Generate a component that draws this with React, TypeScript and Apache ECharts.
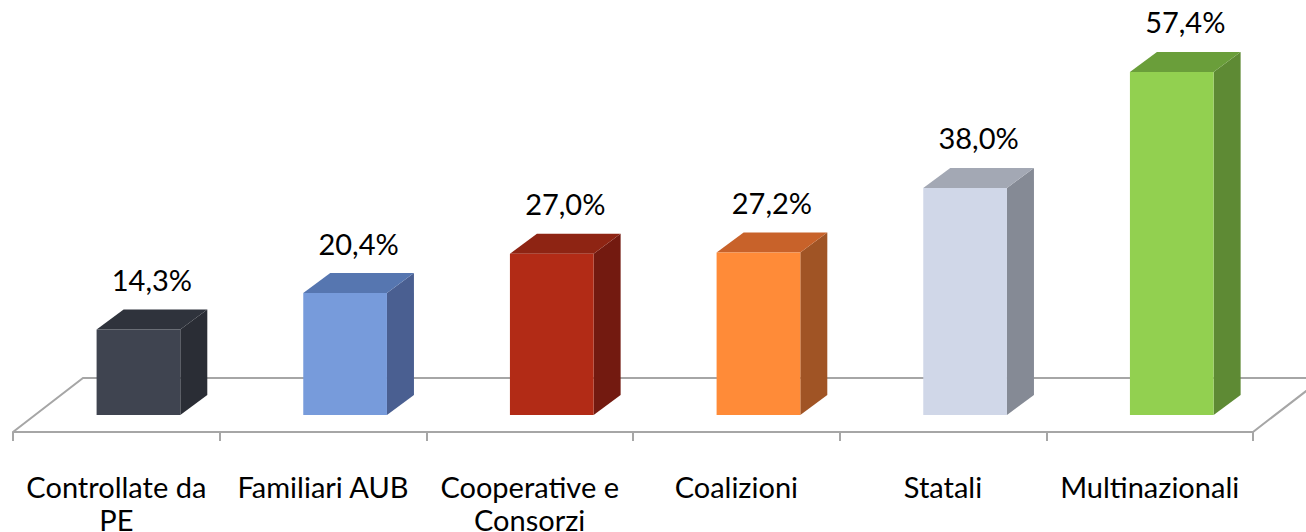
import React, { useEffect, useRef } from "react";
import * as echarts from "echarts";

const categories: string[] = [
  "Controllate da\nPE",
  "Familiari AUB",
  "Cooperative e\nConsorzi",
  "Coalizioni",
  "Statali",
  "Multinazionali",
];
const values: number[] = [14.3, 20.4, 27.0, 27.2, 38.0, 57.4];

const frontColors = ["#3f4450", "#779bdb", "#b22b16", "#ff8b38", "#d0d7e8", "#92d050"];
const topColors = ["#2f333c", "#5676b0", "#8e2413", "#c8622a", "#a3a8b4", "#6a9e3a"];
const sideColors = ["#2a2d35", "#4a5f91", "#731a10", "#a05425", "#858a95", "#5e8a34"];

const FONT = "Lato, 'Noto Sans', sans-serif";
const fmt = (v: number) => v.toFixed(1).replace(".", ",") + "%";

export default function App() {
  const ref = useRef<HTMLDivElement>(null);
  useEffect(() => {
    if (!ref.current) return;
    const chart = echarts.init(ref.current, null, { renderer: "svg" });
    const dx = 27;
    const dy = 20;
    const lift = 17; // bars stand back from the floor's front edge
    chart.setOption({
      animation: false,
      backgroundColor: "#ffffff",
      grid: {
        left: 13,
        right: 53,
        top: 73.4,
        bottom: 100,
        containLabel: false,
        outerBoundsMode: "none",
      },
      xAxis: {
        type: "category",
        data: categories,
        axisLine: { show: true, lineStyle: { color: "#a6a6a6", width: 2 } },
        axisTick: { show: true, length: 9, lineStyle: { color: "#a6a6a6", width: 2 } },
        axisLabel: {
          color: "#000000",
          fontFamily: FONT,
          fontSize: 29,
          lineHeight: 33,
          margin: 38,
          interval: 0,
        },
        splitLine: { show: false },
      },
      yAxis: { type: "value", min: 0, max: 60, show: false },
      series: [
        {
          type: "custom",
          z: 1,
          data: [[0, 0]],
          renderItem: (params: any, api: any) => {
            const cs = params.coordSys;
            const x = cs.x;
            const w = cs.width;
            const yf = cs.y + cs.height;
            return {
              type: "polyline",
              shape: {
                points: [
                  [x, yf],
                  [x + 70, yf - 54],
                  [x + w + 70, yf - 54],
                  [x + w, yf],
                ],
              },
              style: { stroke: "#a6a6a6", lineWidth: 2, fill: "none" },
            };
          },
        },
        {
          type: "custom",
          z: 2,
          data: values.map((v, i) => [i, v]),
          renderItem: (params: any, api: any) => {
            const idx = api.value(0);
            const val = api.value(1);
            const base = api.coord([idx, 0]);
            const top = api.coord([idx, val]);
            const band = api.size([1, 0])[0];
            const fw = band * 0.405;
            const shift = band * 0.107;
            const x0 = base[0] + shift - fw / 2;
            const x1 = x0 + fw;
            const yb = base[1] - lift;
            const yt = top[1] - lift;
            const i = params.dataIndex;
            return {
              type: "group",
              children: [
                {
                  type: "polygon",
                  shape: { points: [[x1, yb], [x1 + dx, yb - dy], [x1 + dx, yt - dy], [x1, yt]] },
                  style: { fill: sideColors[i] },
                },
                {
                  type: "polygon",
                  shape: { points: [[x0, yt], [x0 + dx, yt - dy], [x1 + dx, yt - dy], [x1, yt]] },
                  style: { fill: topColors[i] },
                },
                {
                  type: "rect",
                  shape: { x: x0, y: yt, width: fw, height: yb - yt },
                  style: { fill: frontColors[i] },
                },
                {
                  type: "text",
                  style: {
                    text: fmt(val),
                    x: x0 + fw / 2 + dx / 2,
                    y: yt - 50,
                    align: "center",
                    verticalAlign: "middle",
                    fill: "#000000",
                    fontFamily: FONT,
                    fontSize: 29,
                  },
                },
              ],
            };
          },
        },
      ],
    });
    return () => chart.dispose();
  }, []);
  return (
    <div
      ref={ref}
      style={{ position: "fixed", left: 0, top: 0, width: 1306, height: 532 }}
    />
  );
}
